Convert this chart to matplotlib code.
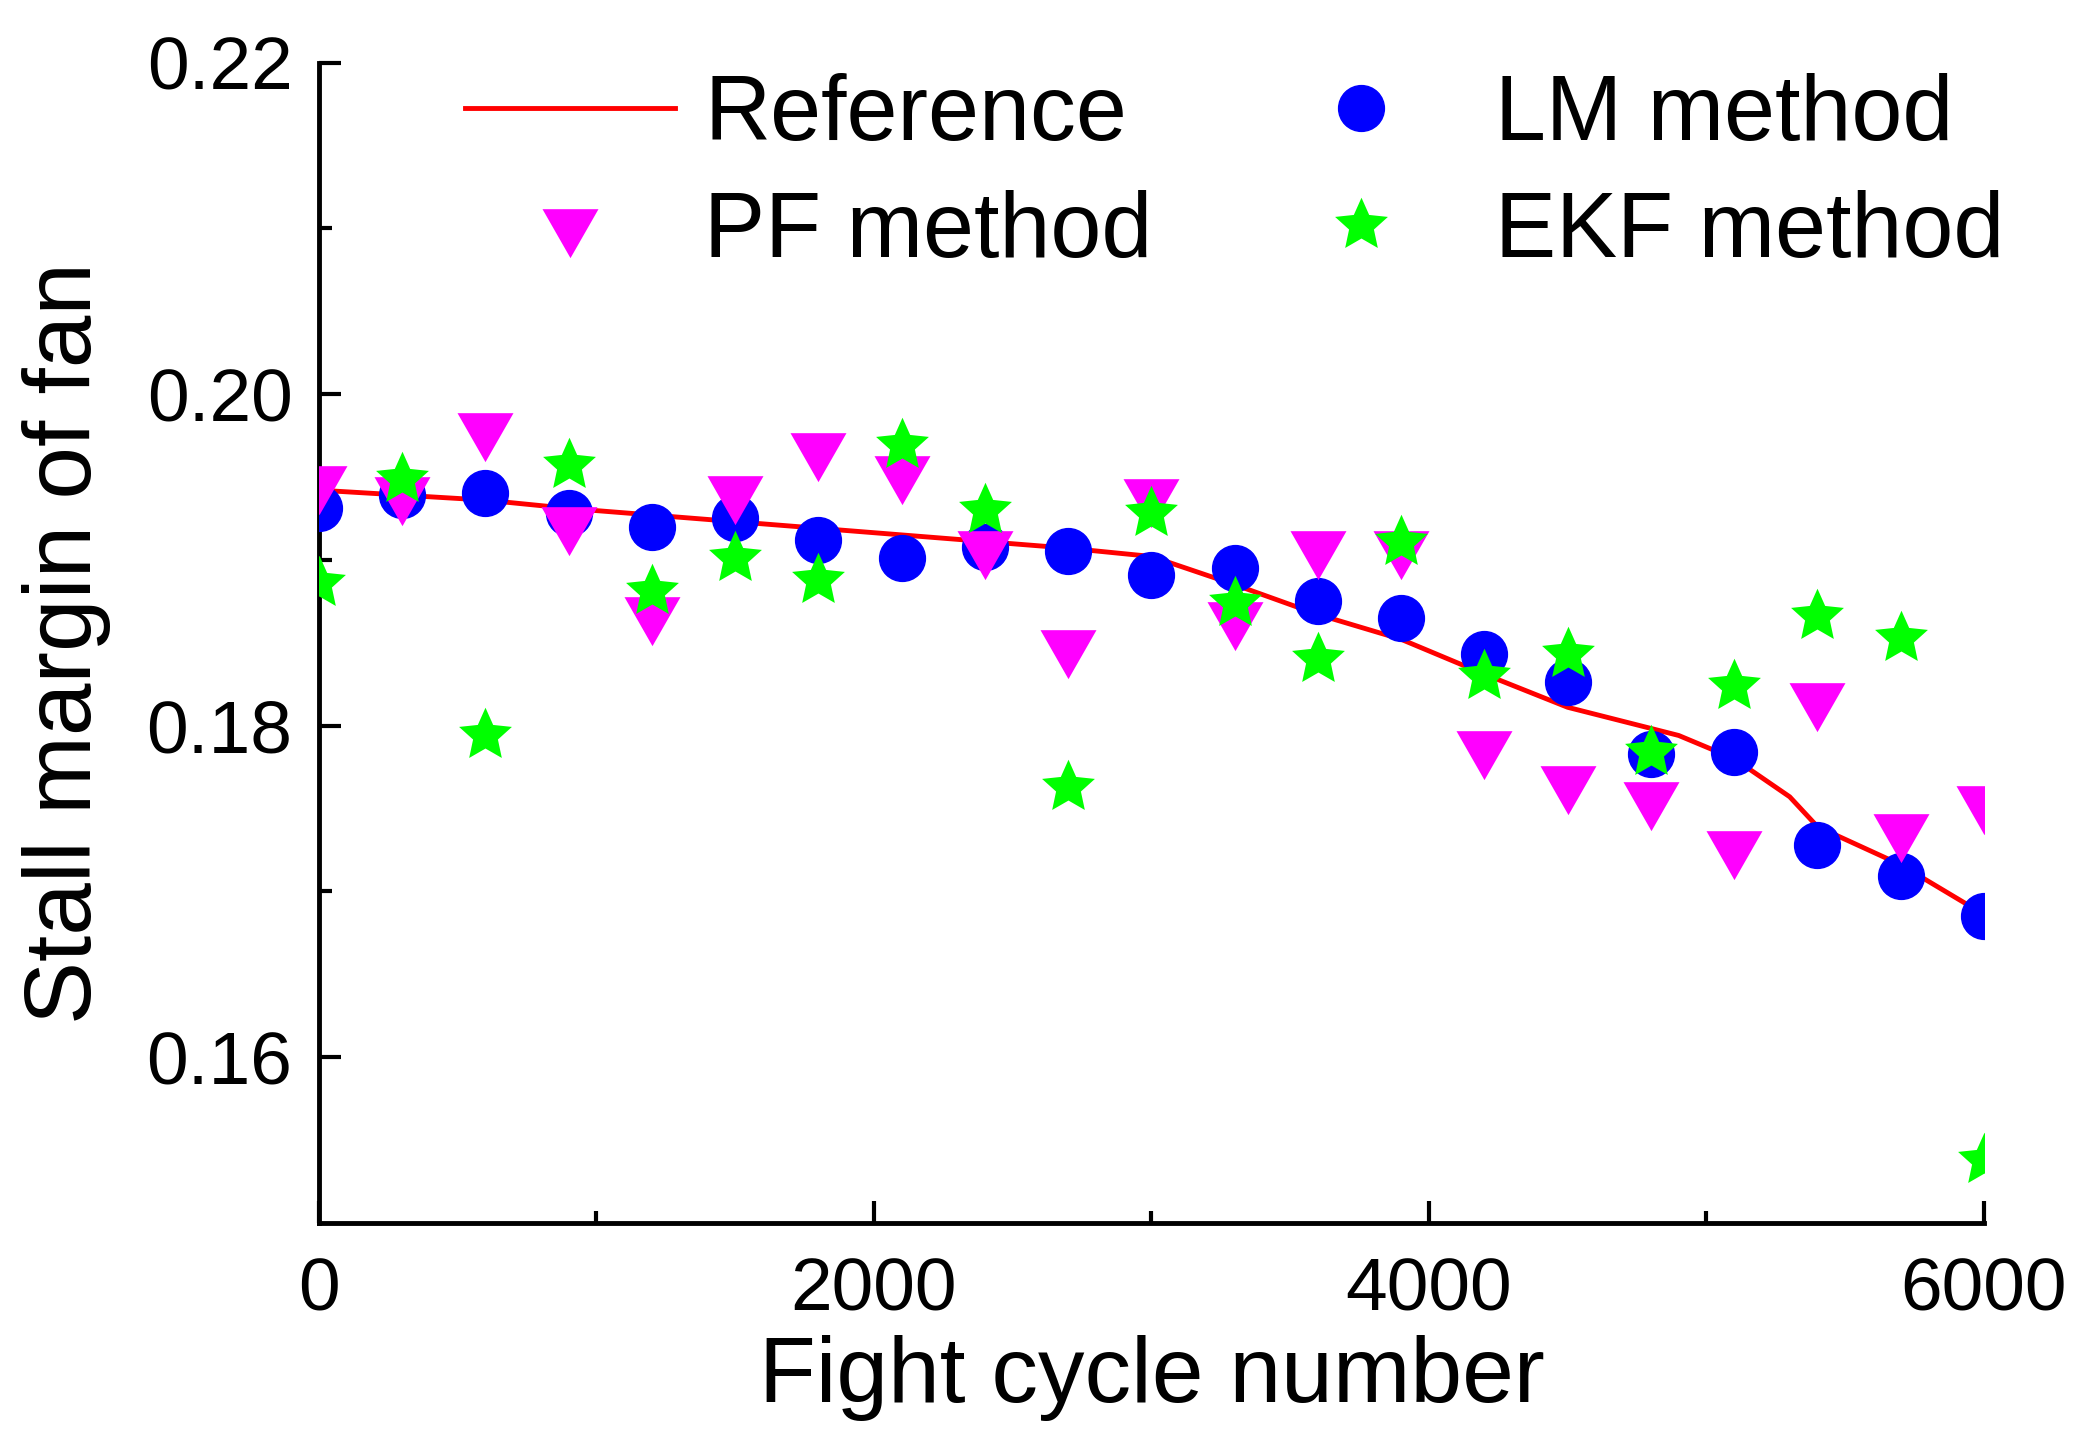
import numpy as np
import matplotlib
matplotlib.use("Agg")
import matplotlib.pyplot as plt
from matplotlib.ticker import FormatStrFormatter, FixedLocator

plt.rcParams['font.family'] = ['Liberation Sans', 'DejaVu Sans']

cycles = [0, 300, 600, 900, 1200, 1500, 1800, 2100, 2400, 2700, 3000,
          3300, 3600, 3900, 4200, 4500, 4800, 5100, 5400, 5700, 6000]

ref_x = [0, 300, 600, 900, 1200, 1500, 1800, 2100, 2400, 2700, 3000,
         3300, 3600, 3900, 4200, 4500, 4900, 5100, 5300, 5400, 5700, 6000]
ref_y = [0.1942, 0.1939, 0.1936, 0.1931, 0.1927, 0.1923, 0.1919, 0.1915, 0.1911, 0.1907, 0.1902,
         0.1885, 0.1867, 0.1852, 0.1831, 0.1811, 0.1794, 0.1780, 0.1757, 0.1739, 0.1716, 0.1686]

lm = [0.1931, 0.1939, 0.1940, 0.1928, 0.1920, 0.1925, 0.1912, 0.1901, 0.1908, 0.1905, 0.1891,
      0.1895, 0.1875, 0.1865, 0.1843, 0.1826, 0.1783, 0.1784, 0.1728, 0.1709, 0.1685]

pf = [0.1947, 0.1940, 0.1979, 0.1922, 0.1868, 0.1941, 0.1967, 0.1953, 0.1908, 0.1848, 0.1939,
      0.1865, 0.1908, 0.1908, 0.1787, 0.1766, 0.1756, 0.1727, 0.1816, 0.1737, 0.1754]

ekf = [0.1886, 0.1949, 0.1794, 0.1957, 0.1881, 0.1901, 0.1888, 0.1969, 0.1930, 0.1763, 0.1928,
       0.1874, 0.1840, 0.1911, 0.1830, 0.1843, 0.1784, 0.1824, 0.1866, 0.1853, 0.1538]

fig = plt.figure(figsize=(20.84, 14.44), dpi=100)
ax = fig.add_axes([0.153, 0.1532, 0.799, 0.8035])

# down triangle anchored at its centroid
tri = [(-1, 0.5833), (1, 0.5833), (0, -1.1667)]
# five-pointed star with slightly fat arms
ang = np.pi / 2 + np.arange(10) * np.pi / 5
rad = np.where(np.arange(10) % 2 == 0, 1.0, 0.47)
star = list(zip(rad * np.cos(ang), rad * np.sin(ang)))

ax.plot(ref_x, ref_y, color='#FF0000', lw=3.5, label='Reference', zorder=2)
ax.plot(cycles, lm, ls='none', marker='o', ms=33, color='#0000FF', label='LM method', zorder=3)
ax.plot(cycles, pf, ls='none', marker=tri, ms=47, color='#FF00FF', mec='none', label='PF method', zorder=4)
ax.plot(cycles, ekf, ls='none', marker=star, ms=40, color='#00FF00', mec='none', label='EKF method', zorder=5)

ax.set_xlim(0, 6000)
ax.set_ylim(0.15, 0.22)

for s in ['top', 'right']:
    ax.spines[s].set_visible(False)
for s in ['left', 'bottom']:
    ax.spines[s].set_linewidth(3.5)

ax.xaxis.set_major_locator(FixedLocator([0, 2000, 4000, 6000]))
ax.xaxis.set_minor_locator(FixedLocator([1000, 3000, 5000]))
ax.yaxis.set_major_locator(FixedLocator([0.16, 0.18, 0.20, 0.22]))
ax.yaxis.set_minor_locator(FixedLocator([0.17, 0.19, 0.21]))
ax.yaxis.set_major_formatter(FormatStrFormatter('%.2f'))

ax.tick_params(axis='both', which='major', direction='in', length=16, width=3, labelsize=54)
ax.tick_params(axis='both', which='minor', direction='in', length=9, width=3)
ax.tick_params(axis='x', which='major', pad=24)
ax.tick_params(axis='y', which='major', pad=19)

ax.set_xlabel('Fight cycle number', fontsize=67, va='baseline')
ax.xaxis.set_label_coords(0.5, -0.1546)
ax.set_ylabel('Stall margin of fan', fontsize=68, va='baseline')
ax.yaxis.set_label_coords(-0.137, 0.5)

h, l = ax.get_legend_handles_labels()
order = [0, 2, 1, 3]
ax.legend([h[i] for i in order], [l[i] for i in order], ncol=2, frameon=False,
          fontsize=66, loc='upper left', bbox_to_anchor=(0.0877, 0.991),
          borderpad=0, borderaxespad=0, handlelength=2.29, handletextpad=0.32,
          columnspacing=1.13, labelspacing=0.335)

fig.savefig('out.png', dpi=100)
